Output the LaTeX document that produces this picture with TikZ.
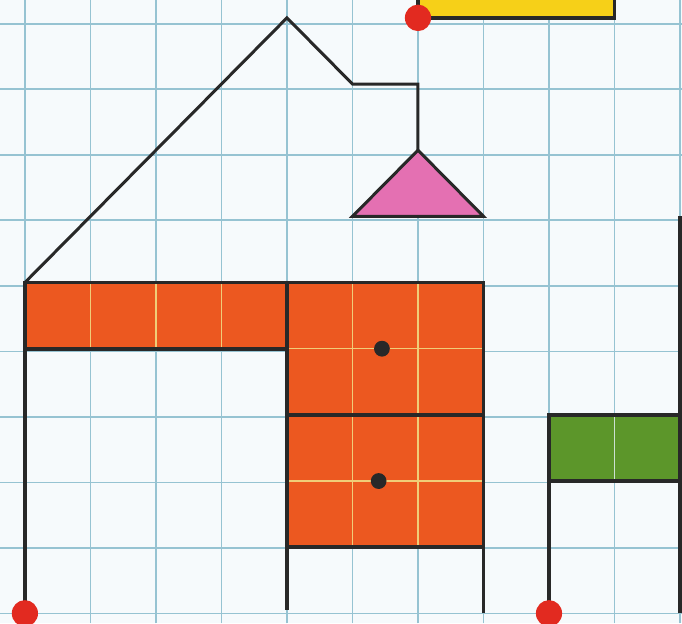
\documentclass[tikz,border=0pt]{standalone}
\definecolor{paper}{RGB}{246,250,252}
\definecolor{gridblue}{RGB}{150,195,210}
\definecolor{deskorange}{RGB}{236,88,32}
\definecolor{deskline}{RGB}{240,205,120}
\definecolor{shadepink}{RGB}{228,112,178}
\definecolor{flaggreen}{RGB}{92,150,42}
\definecolor{boxyellow}{RGB}{246,208,24}
\definecolor{dotred}{RGB}{226,42,32}
\definecolor{ink}{RGB}{40,40,40}
\tikzset{
    gridline/.style={gridblue, line width=0.7pt},
    inner/.style={deskline, line width=0.6pt},
    outline/.style={ink, line width=1.6pt},
    wire/.style={ink, line width=1.3pt, line join=miter},
    pin/.style={fill=dotred},
    knob/.style={fill=ink}
}
\begin{document}
\begin{tikzpicture}[x=1cm, y=1.01cm]
    \useasboundingbox (-0.38,-0.15) rectangle (10.03,9.27);
    \clip (-0.38,-0.15) rectangle (10.03,9.27);

    %% Squared paper
    \fill[paper] (-0.38,-0.15) rectangle (10.03,9.27);
    \draw[gridline] (-0.38,-0.15) grid (10.03,9.27);

    %% Yellow box (top)
    \fill[boxyellow] (6,9) rectangle (9,9.6);
    \draw[outline] (6,9.6) -- (6,9) -- (9,9) -- (9,9.6);

    %% Lamp arm and shade
    \coordinate (base) at (0,5);
    \coordinate (elbow) at (4,9);
    \draw[wire] (base) -- (elbow) -- (5,8) -- (6,8) -- (6,7);
    \filldraw[shadepink, draw=ink, line width=1.3pt, line join=miter]
        (5,6) -- (6,7) -- (7,6) -- cycle;

    %% Desk top and drawers
    \fill[deskorange] (0,4) rectangle (4,5);
    \fill[deskorange] (4,1) rectangle (7,5);
    \draw[inner] (1,4) -- (1,5) (2,4) -- (2,5) (3,4) -- (3,5);
    \draw[inner] (5,1) -- (5,5) (6,1) -- (6,5);
    \draw[inner] (4,2) -- (7,2) (4,4) -- (7,4);
    \draw[outline] (0,4) rectangle (4,5);
    \draw[outline] (4,1) rectangle (7,5);
    \draw[outline] (4,3) -- (7,3);
    \fill[knob] (5.45,4) circle (0.12);
    \fill[knob] (5.4,2) circle (0.12);

    %% Legs
    \draw[outline] (0,4) -- (0,0);
    \draw[outline] (4,1) -- (4,0.05);
    \draw[outline] (7,1) -- (7,0);

    %% Green flag and post
    \fill[flaggreen] (8,2) rectangle (10,3);
    \draw[inner, gridblue!60!flaggreen!40!white] (9,2) -- (9,3);
    \draw[outline] (8,2) rectangle (10,3);
    \draw[outline] (8,2) -- (8,0);
    \draw[outline] (10,6) -- (10,0);

    %% Red pins
    \fill[pin] (0,0) circle (0.2);
    \fill[pin] (8,0) circle (0.2);
    \fill[pin] (6,9) circle (0.2);
\end{tikzpicture}
\end{document}
